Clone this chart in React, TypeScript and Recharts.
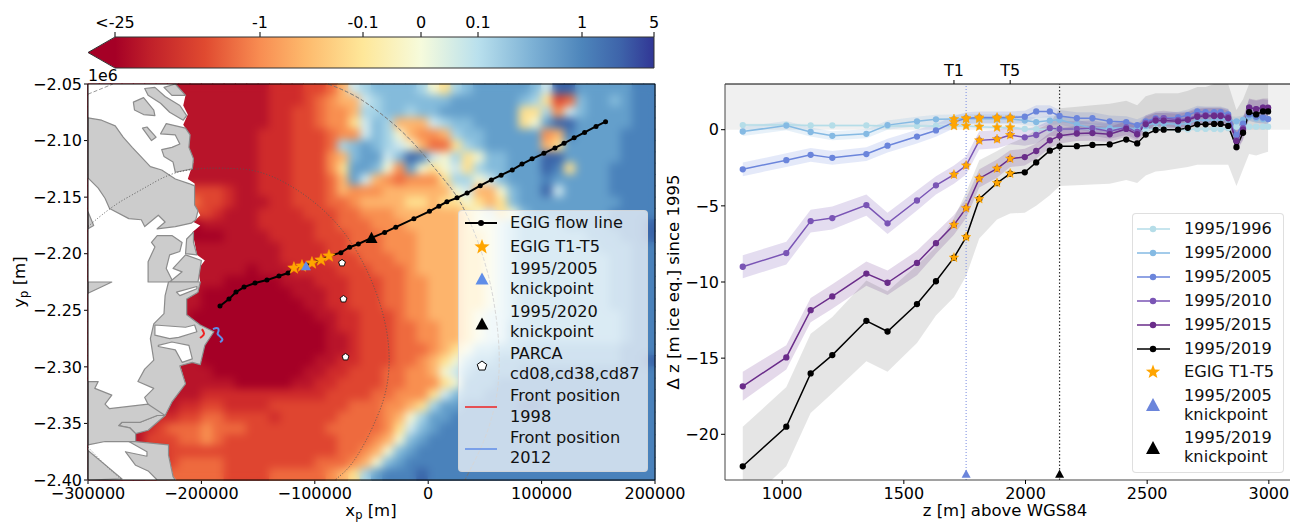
import React from "react";
import { ComposedChart, Line, Area, XAxis, YAxis, ReferenceArea, ReferenceLine, Legend } from "recharts";

const FONT = "'DejaVu Sans', sans-serif";

// ---------- panel (a): heat field, 10 km cells ----------
const heatLevels = "0123456789abcdef";
const heatColors = ["#a50026","#b8142a","#cf2b2b","#df4530","#ee6a3e","#f88f50","#fdb46c","#fee090","#f4f6d2","#cfe8ee","#a6d3e6","#84bbdb","#649fcb","#4a82bb","#3a64a8","#313695"];
const heatRows = [
"1111111111 1111112223 3469abbbba 87abcccccb 9eecccccdd",
"1111111111 1111112223 45669abbbb bbccccccba 734bccbcdd",
"1111111111 1111112233 4556aabbab bccccccc77 a59bccccdd",
"1111111111 1111112233 45579ba666 9abbcccc78 ceecccccdd",
"1111111111 1111122233 34559ba865 56abbccccc 56dccccddd",
"1111111111 1111122233 34abcba986 447abccccc 67cccccddd",
"1111111111 1111122233 356bcc9bed 98a78bbccc eecccccddd",
"1111111111 1111122233 357ccb85c8 7897abbccc ed7cccdddd",
"1111111111 1111122233 346c965455 57aa89bccc dcccccdddd",
"1111111113 3321122233 3465556666 6689668bcc e9ccccdddd",
"1111111154 3321112233 3445666677 6778767bcc cccccccddd",
"1111111113 3211122223 3344555666 66678978bc ccccccdddd",
"1111111110 1111122222 3344455566 6667889abb bbccccddde",
"1111111110 0011112222 3334445556 6667789abb bbbbcccdde",
"1111111111 1111111222 2334445556 6667789abb bbbbbcccdd",
"1111111111 1111111222 2333444556 6667789abb bbbbbbccdd",
"1111111111 1111011122 2233344456 6667789abb bbbbbbccdd",
"1111111111 1100000111 2223334455 6667789abb bbbbbbccdd",
"1111111111 0000000011 1223334455 6667789abb bbbbbbccdd",
"1111111111 0000000001 1223334455 6667789abb bbbbbbccdd",
"1111111110 0000000000 1122333455 6667899abb bbbbbbbcdd",
"1111111110 0000000000 0122333445 5667899bbb bbbbbbbcdd",
"1111111110 0000000000 0112333445 5667899bbb bbbbbbbcdd",
"1111111110 0000000000 0112333444 5678aabbcc cccccccddd",
"1111111111 0000000000 1122333445 678abbcccc cccccccdde",
"1111111111 1000000001 1223334455 689bccccdd dddddddddd",
"1111111111 1110000011 2233334455 578cccdddd dddddddddd",
"1111111111 2222222222 2333344555 79bccddddd dddddddddd",
"1111111122 3322223333 3334445567 accdddddee dddddddddd",
"1111112233 4433332333 334444568a ccdddddddd dddddddddd",
"1111123444 5444333333 344444579b cddddddddd dddddddddd",
"1111133344 5433333333 33444568bc dddddddddd dddddddddd",
"1111122333 3333333333 3344568bcd dddddddddd dddddddddd",
"1111122344 4433333333 444568bcdd dddddddddd dddddddddd",
"1111123444 4433334444 4567acddde dddddddddd dddddddddd",
];
const heatCells = heatRows.flatMap((row, r) =>
  row.replace(/ /g, "").split("").map((ch, c) => ({
    x: -295000 + c * 10000,
    y: -2055000 - r * 10000,
    color: heatColors[heatLevels.indexOf(ch)],
  })));

// coastline polygons, km
const iceMask = [[-300,-2050],[-223,-2050],[-214,-2060],[-216,-2069],[-212,-2077],[-216,-2086],[-210,-2095],[-212,-2110],[-207,-2119],[-212,-2134],[-206,-2138],[-206,-2157],[-201,-2166],[-207,-2172],[-201,-2175],[-208,-2181],[-206,-2190],[-204,-2201],[-197,-2206],[-203,-2214],[-201,-2225],[-203,-2234],[-213,-2240],[-213,-2254],[-201,-2263],[-190,-2269],[-197,-2281],[-201,-2298],[-208,-2296],[-219,-2298],[-214,-2315],[-226,-2331],[-232,-2343],[-247,-2356],[-259,-2359],[-259,-2366],[-229,-2369],[-229,-2378],[-225,-2397],[-222,-2400],[-300,-2400]];
const landPolys = [
  [[-300,-2080],[-288,-2082],[-276,-2087],[-269,-2097],[-261,-2106],[-245,-2123],[-235,-2126],[-223,-2134],[-211,-2138],[-206,-2140],[-206,-2157],[-203,-2162],[-205,-2170],[-209,-2173],[-223,-2176],[-239,-2178],[-232,-2172],[-238,-2166],[-250,-2176],[-253,-2170],[-264,-2169],[-281,-2160],[-285,-2151],[-291,-2142],[-300,-2133]],
  [[-300,-2163],[-295,-2175],[-300,-2178]],
  [[-250,-2054],[-241,-2053],[-232,-2061],[-219,-2069],[-213,-2078],[-216,-2082],[-228,-2075],[-236,-2067],[-247,-2060]],
  [[-233,-2053],[-223,-2050],[-214,-2060],[-226,-2060]],
  [[-260,-2066],[-251,-2062],[-242,-2073],[-241,-2078],[-251,-2077],[-259,-2073]],
  [[-252,-2089],[-248,-2088],[-240,-2097],[-244,-2100]],
  [[-236,-2094],[-231,-2085],[-214,-2089],[-210,-2095],[-211,-2106],[-207,-2116],[-208,-2125],[-223,-2128],[-225,-2119],[-233,-2114],[-235,-2108],[-226,-2106],[-219,-2103],[-223,-2095]],
  [[-244,-2190],[-239,-2184],[-226,-2184],[-217,-2190],[-219,-2198],[-228,-2201],[-231,-2213],[-225,-2225],[-247,-2225],[-247,-2207],[-241,-2194]],
  [[-213,-2187],[-207,-2181],[-207,-2190],[-204,-2201],[-214,-2200]],
  [[-225,-2213],[-214,-2201],[-200,-2206],[-203,-2225],[-228,-2225],[-217,-2216]],
  [[-300,-2225],[-279,-2225],[-300,-2235]],
  [[-229,-2225],[-201,-2225],[-203,-2234],[-213,-2240],[-213,-2254],[-201,-2263],[-189,-2269],[-197,-2281],[-201,-2298],[-208,-2296],[-219,-2299],[-214,-2315],[-226,-2331],[-232,-2343],[-247,-2356],[-258,-2359],[-263,-2354],[-273,-2352],[-270,-2349],[-254,-2349],[-239,-2343],[-247,-2333],[-250,-2327],[-242,-2319],[-256,-2313],[-250,-2302],[-242,-2294],[-245,-2275],[-242,-2262],[-233,-2253],[-232,-2237]],
  [[-300,-2313],[-291,-2313],[-294,-2319],[-279,-2325],[-285,-2333],[-281,-2337],[-247,-2333],[-232,-2343],[-239,-2343],[-254,-2349],[-270,-2349],[-273,-2352],[-263,-2354],[-258,-2359],[-258,-2366],[-264,-2366],[-285,-2366],[-300,-2369]],
  [[-258,-2366],[-229,-2369],[-229,-2378],[-225,-2397],[-223,-2400],[-239,-2400],[-247,-2392],[-258,-2387],[-267,-2375],[-248,-2379],[-248,-2375],[-264,-2366]],
  [[-300,-2374],[-270,-2399],[-300,-2400]],
];
const fjordPolys = [
  [[-241,-2263],[-214,-2265],[-206,-2263],[-204,-2269],[-220,-2274],[-228,-2275],[-241,-2272]],
  [[-238,-2281],[-226,-2278],[-211,-2281],[-208,-2293],[-217,-2296],[-223,-2285],[-238,-2282]],
  [[-222,-2234],[-204,-2229],[-204,-2231],[-219,-2237]],
];
const bigArc = [[-88.4,-2050],[-69,-2057],[-42.5,-2075],[-16,-2098],[10.4,-2130],[28,-2152],[43.9,-2188],[54.5,-2223],[60.7,-2259],[63.3,-2294],[60.7,-2329],[50.1,-2365],[32.4,-2400]];
const topLeftArc = [[-300,-2059],[-278,-2050]];
const dotArc = [[-300,-2176],[-280.6,-2159],[-254,-2144],[-229.5,-2130],[-208.3,-2125],[-183.6,-2124],[-148.3,-2126],[-113,-2144],[-82.2,-2170],[-60.1,-2201],[-42.5,-2241],[-33.7,-2281],[-35.5,-2320],[-49.6,-2356],[-67.2,-2387],[-82,-2400]];
const cornerArc = [[-300,-2371],[-285,-2387],[-270,-2400]];
const flowKm = [[-183.6,-2246.2],[-175.7,-2240.1],[-169.5,-2233.9],[-162.4,-2229.5],[-152.7,-2225.9],[-142.2,-2223.3],[-131.6,-2219.7],[-123.6,-2217.1],[-118.4,-2212.7],[-111.3,-2210.9],[-102.5,-2208.2],[-94.5,-2205.6],[-87.5,-2202.0],[-77.0,-2199.1],[-69.3,-2194.3],[-61.6,-2191.4],[-50,-2186],[-38.4,-2181.2],[-28.6,-2176.5],[-12.6,-2169],[1.1,-2162.5],[9.4,-2158],[16.5,-2154.1],[25.4,-2150.6],[34.3,-2146.4],[45.9,-2139.9],[55.7,-2134.8],[64.3,-2130.6],[74.1,-2125.9],[82.7,-2120.8],[91.6,-2116.1],[102,-2111.3],[111.8,-2106.5],[119.8,-2102.4],[128.7,-2097.6],[137.9,-2092.8],[148,-2087.5],[156.4,-2083.3]];
const egigKm = [[-118.4,-2212.7],[-111.3,-2210.9],[-102.5,-2208.2],[-94.5,-2205.6],[-87.5,-2202.0]];
const knick2005Km = [[-107.8,-2210.9]];
const knick2020Km = [[-50,-2186]];
const parcaKm = [[-76,-2208.2],[-74.7,-2240.1],[-72.9,-2291.3]];
const front1998Km = [[-199.5,-2266.6],[-197.7,-2269.2],[-197.7,-2271.9],[-201.2,-2274.5]];
const front2012Km = [[-189.8,-2266.6],[-185.4,-2264.8],[-184.5,-2268.3],[-186.3,-2271],[-182.7,-2273.7],[-181,-2276.3],[-183.6,-2278.1]];
const mapFrame = [[-300,-2050],[200,-2050],[200,-2400],[-300,-2400]];
const mapXTicks = [-300000,-200000,-100000,0,100000,200000];
const mapYTicks = [-2050000,-2100000,-2150000,-2200000,-2250000,-2300000,-2350000,-2400000];

// ---------- colour bar ----------
const cbarLabels = ["<-25","-1","-0.1","0","0.1","1","5"];
const cbarTicks = [0,145,248,306,363,467,539];
const cbarStops = [[0,"#a50026"],[35,"#c0202a"],[90,"#e04a30"],[145,"#f88d52"],[190,"#fdb96c"],[248,"#fee799"],[306,"#f6fbdc"],[363,"#b9e0ed"],[415,"#7fb3d6"],[467,"#4d85bb"],[505,"#3e64aa"],[539,"#313695"]];
const cbarArrow = [[0.5,0],[0.5,1],[-27,0.5]];
const cbarOutline = [[-27,0.5],[0,1],[539,1],[539,0],[0,0]];

// ---------- panel (b) ----------
const elev = [838,1017,1117,1206,1346,1433,1554,1632,1706,1756,1810,1883,1937,1997,2044,2100,2140,2211,2275,2346,2414,2459,2494,2535,2568,2627,2667,2706,2740,2775,2802,2833,2867,2894,2919,2948,2976,2997];
const s1996 = [.3,.32,.28,.28,.28,.25,.25,.25,.25,.25,.2,.15,.15,.05,.03,.03,.05,.05,.05,.05,.1,-.05,0,.05,.05,-.02,.02,.05,.05,.05,.03,.1,.2,.2,.2,.2,.2,.2];
const s2000 = [-.12,.27,-.15,-.4,-.27,.3,.55,.68,.7,.72,.72,.72,.72,.6,.5,.6,.65,.35,.1,.1,.15,.05,.25,.45,.4,.35,.4,.65,.6,.65,.7,.65,.55,.65,.85,.75,.7,.7];
const s2005 = [-2.6,-2,-1.65,-1.85,-1.6,-1.05,-.45,-.05,.5,.75,.8,.8,.8,.85,1.2,1.2,.9,.75,.75,.55,.5,.3,.55,.75,.75,.8,.95,1.2,1.15,1.15,1.15,1,-.35,.4,1,.85,.8,.7];
const s2010 = [-9,-8.1,-6,-5.8,-4.95,-6.15,-4.65,-3.65,-2.95,-2.35,-.7,-.62,-.35,-.5,-.35,.1,.05,.05,.1,-.1,.15,-.15,.45,.7,.75,.65,.7,.95,.95,.95,.95,.85,-.7,.1,1.45,1.35,1.45,1.4];
const s2015 = [-16.85,-14.95,-11.85,-10.95,-9.45,-10.05,-8.75,-7.45,-6.25,-5.15,-3.2,-2.55,-1.9,-1.8,-1.4,-.7,-.4,-.25,-.22,-.3,.05,-.3,.35,.6,.6,.55,.65,.85,.9,.9,.9,.75,-.75,0,1.45,1.35,1.45,1.45];
const s2019 = [-22.1,-19.5,-16,-14.8,-12.55,-13.25,-11.45,-9.95,-8.4,-7.05,-4.55,-3.5,-2.88,-2.8,-2.15,-1.38,-1.09,-1.08,-1,-.97,-.65,-.9,-.32,-.02,0,0,.12,.35,.35,.38,.38,.25,-1.15,-.2,1.15,1,1.2,1.2];
const hw1996 = [.1,.1,.1,.1,.1,.1,.1,.1,.1,.1,.1,.1,.1,.1,.1,.1,.1,.1,.1,.1,.1,.1,.1,.1,.1,.1,.1,.1,.1,.1,.1,.1,.1,.1,.1,.1,.1,.1];
const hw2000 = [.3,.3,.3,.3,.3,.3,.3,.3,.3,.3,.3,.3,.3,.3,.3,.3,.3,.3,.3,.3,.3,.3,.3,.3,.25,.25,.25,.25,.25,.25,.25,.25,.3,.3,.3,.3,.3,.3];
const hw2005 = [.45,.45,.45,.45,.45,.45,.45,.42,.4,.4,.4,.4,.4,.4,.4,.4,.4,.4,.4,.38,.38,.38,.38,.38,.38,.38,.38,.38,.38,.38,.38,.38,.5,.5,.4,.4,.4,.4];
const hw2010 = [.75,.75,.75,.75,.7,.7,.65,.6,.6,.6,.6,.6,.6,.55,.55,.5,.5,.5,.5,.5,.5,.5,.5,.5,.5,.5,.5,.5,.5,.5,.5,.5,.7,.7,.55,.55,.55,.55];
const hw2015 = [.95,.8,.8,.8,.8,.8,.8,.7,.65,.65,.6,.6,.55,.55,.5,.5,.5,.5,.5,.5,.5,.5,.5,.5,.5,.5,.5,.5,.5,.5,.5,.5,.7,.7,.6,.6,.6,.6];
const band2019Lo = [-24.8,-22.1,-18.6,-17.3,-15.2,-15.9,-14,-12.2,-11,-9.6,-7.15,-5.9,-5.5,-5.45,-5,-4.3,-3.7,-3.65,-3.6,-3.55,-3.3,-3.5,-3,-2.75,-2.7,-2.55,-2.45,-2.3,-2.3,-2.3,-2.3,-2.3,-3.7,-2.6,-1.6,-1.7,-1.55,-1.45];
const band2019Hi = [-19.5,-16.9,-13.4,-12.3,-9.9,-10.6,-8.9,-7.7,-5.8,-4.1,-2,-1.4,-.9,-.5,0,.4,1.4,1.5,1.6,1.7,1.9,1.6,2.2,2.4,2.4,2.4,2.55,2.8,2.8,3,3,3,1.3,2,3,3,3,3];
const zXTicks = [1000,1500,2000,2500,3000];
const zYTicks = [0,-5,-10,-15,-20];
const topLabels = ["T1","T5"];
const topTicks = [1706,1937];
const egigIdx = [8,9,10,11,12];
const knick2005z = [{ z: 1756, v: -22.6 }];
const knick2019z = [{ z: 2140, v: -22.6 }];

const seriesList = [
  { key: "s1996", name: "1995/1996", color: "#b5dde8", vals: s1996, hw: hw1996, op: 0.15 },
  { key: "s2000", name: "1995/2000", color: "#85bae3", vals: s2000, hw: hw2000, op: 0.2 },
  { key: "s2005", name: "1995/2005", color: "#6b85db", vals: s2005, hw: hw2005, op: 0.18 },
  { key: "s2010", name: "1995/2010", color: "#7a55b5", vals: s2010, hw: hw2010, op: 0.2 },
  { key: "s2015", name: "1995/2015", color: "#6a2c8a", vals: s2015, hw: hw2015, op: 0.18 },
];
const table = elev.map((z, i) => {
  const row: any = { z, s2019: s2019[i], b2019: [band2019Lo[i], band2019Hi[i]] };
  seriesList.forEach((s) => {
    row[s.key] = s.vals[i];
    row["b" + s.key] = [s.vals[i] - s.hw[i], s.vals[i] + s.hw[i]];
  });
  return row;
});

const km = (a: number[][]) => a.map(([x, y]) => ({ x: x * 1000, y: y * 1000 }));
const minus = (s: string) => s.replace("-", "\u2212");

// ---------- marks ----------
const starPath = (cx: number, cy: number, r: number) => {
  const pts: string[] = [];
  for (let i = 0; i < 10; i++) {
    const R = i % 2 ? r * 0.42 : r;
    const a = (Math.PI / 5) * i - Math.PI / 2;
    pts.push(`${cx + R * Math.cos(a)},${cy + R * Math.sin(a)}`);
  }
  return "M" + pts.join("L") + "Z";
};
const pentaPath = (cx: number, cy: number, r: number) => {
  const pts: string[] = [];
  for (let i = 0; i < 5; i++) {
    const a = ((Math.PI * 2) / 5) * i - Math.PI / 2;
    pts.push(`${cx + r * Math.cos(a)},${cy + r * Math.sin(a)}`);
  }
  return "M" + pts.join("L") + "Z";
};
const triPath = (cx: number, cy: number, r: number) =>
  `M${cx},${cy - r}L${cx + r},${cy + r * 0.85}L${cx - r},${cy + r * 0.85}Z`;

const starDot = (r: number) => (p: any) => <path key={p.index} d={starPath(p.cx, p.cy, r)} fill="#ffa500" stroke="#ffa500" strokeWidth={0.5} />;
const triDot = (r: number, c: string) => (p: any) => <path key={p.index} d={triPath(p.cx, p.cy, r)} fill={c} />;
const pentaDot = (p: any) => <path key={p.index} d={pentaPath(p.cx, p.cy, 3.6)} fill="#fff" stroke="#000" strokeWidth={0.9} />;
const heatDot = (blur: boolean) => (p: any) =>
  p.index === 0 ? (
    <g key={0} className={blur ? "heat" : undefined}>
      {p.points.map((q: any, i: number) => (
        <rect key={i} x={q.x - 6.2} y={q.y - 6.2} width={12.4} height={12.4} fill={heatCells[i].color} />
      ))}
    </g>
  ) : (
    <g key={p.index} />
  );
const polyDot = (fill: string, stroke: string, sw = 1.2) => (p: any) =>
  p.index === 0 ? (
    <path key={0} d={"M" + p.points.map((q: any) => `${q.x},${q.y}`).join("L") + "Z"} fill={fill} stroke={stroke} strokeWidth={sw} strokeLinejoin="round" />
  ) : (
    <g key={p.index} />
  );
const smoothD = (pts: any[]) => {
  if (pts.length < 3) return "M" + pts.map((q) => `${q.x},${q.y}`).join("L");
  let d = `M${pts[0].x},${pts[0].y}`;
  for (let i = 1; i < pts.length - 1; i++) {
    const mx = (pts[i].x + pts[i + 1].x) / 2;
    const my = (pts[i].y + pts[i + 1].y) / 2;
    d += `Q${pts[i].x},${pts[i].y} ${mx},${my}`;
  }
  const l = pts[pts.length - 1];
  return d + `L${l.x},${l.y}`;
};
const pathDot = (stroke: string, w: number, dash?: string, smooth = true, r = 0) => (p: any) => (
  <g key={p.index}>
    {p.index === 0 && (
      <path d={smooth ? smoothD(p.points) : "M" + p.points.map((q: any) => `${q.x},${q.y}`).join("L")} fill="none" stroke={stroke} strokeWidth={w} strokeDasharray={dash} />
    )}
    {r > 0 && <circle cx={p.cx} cy={p.cy} r={r} fill={stroke} />}
  </g>
);

const legendBox = (w: number, h: number, body: React.ReactNode) => (
  <div style={{ width: w, height: h, background: "rgba(255,255,255,0.7)", border: "1px solid rgba(210,210,210,0.7)", borderRadius: 4, boxSizing: "border-box" }}>
    <svg width={w} height={h} style={{ display: "block", position: "absolute", left: 0, top: 0, fontFamily: FONT }}>{body}</svg>
  </div>
);
const T = ({ x, y, children }: any) => <text x={x} y={y} fontSize={16.2} fill="#111" dominantBaseline="middle">{children}</text>;

const leftLegend = () =>
  legendBox(190, 262, (
    <g>
      <line x1={7} x2={39} y1={13} y2={13} stroke="#000" strokeWidth={2} /><circle cx={23} cy={13} r={3} fill="#000" />
      <T x={52} y={13}>EGIG flow line</T>
      <path d={starPath(24, 37, 8)} fill="#ffa500" />
      <T x={52} y={37}>EGIG T1-T5</T>
      <path d={triPath(24, 69, 6.5)} fill="#5f8de8" />
      <T x={52} y={59}>1995/2005</T><T x={52} y={79}>knickpoint</T>
      <path d={triPath(24, 114, 6.5)} fill="#000" />
      <T x={52} y={102}>1995/2020</T><T x={52} y={122}>knickpoint</T>
      <path d={pentaPath(24, 156, 5)} fill="#fff" stroke="#000" strokeWidth={1} />
      <T x={52} y={144}>PARCA</T><T x={52} y={164}>cd08,cd38,cd87</T>
      <line x1={7} x2={39} y1={197} y2={197} stroke="#ee2222" strokeWidth={1.5} />
      <T x={52} y={186}>Front position</T><T x={52} y={207}>1998</T>
      <line x1={7} x2={39} y1={239} y2={239} stroke="#5f8de8" strokeWidth={1.5} />
      <T x={52} y={228}>Front position</T><T x={52} y={248}>2012</T>
    </g>
  ));
const rightLegend = () => {
  const rows = [...seriesList.map((s) => ({ n: s.name, c: s.color })), { n: "1995/2019", c: "#000" }];
  return legendBox(152, 260, (
    <g>
      {rows.map((r, i) => (
        <g key={r.n}>
          <line x1={5} x2={38} y1={16 + i * 24} y2={16 + i * 24} stroke={r.c} strokeWidth={1.5} />
          <circle cx={21} cy={16 + i * 24} r={3.2} fill={r.c} />
          <T x={52} y={16 + i * 24}>{r.n}</T>
        </g>
      ))}
      <path d={starPath(21, 159, 7.5)} fill="#ffa500" />
      <T x={52} y={159}>EGIG T1-T5</T>
      <path d={triPath(21, 192, 7)} fill="#6b85db" />
      <T x={52} y={183}>1995/2005</T><T x={52} y={202}>knickpoint</T>
      <path d={triPath(21, 235, 7)} fill="#000" />
      <T x={52} y={225}>1995/2019</T><T x={52} y={244}>knickpoint</T>
    </g>
  ));
};

const tickStyle = { fill: "#000", fontSize: 16, fontFamily: FONT };
const axisLineBlack = { stroke: "#000", strokeWidth: 1 };
const LBL = 16.5;

export default function App() {
  const polyLine = (pts: number[][], i: string, fill: string, stroke: string, sw?: number) => (
    <Line key={i} data={km(pts)} dataKey="y" stroke="none" isAnimationActive={false} dot={polyDot(fill, stroke, sw)} activeDot={false} legendType="none" />
  );
  const pathLine = (pts: number[][], i: string, stroke: string, w: number, dash?: string, smooth = true, r = 0) => (
    <Line key={i} data={km(pts)} dataKey="y" stroke="none" dot={pathDot(stroke, w, dash, smooth, r)} activeDot={false} isAnimationActive={false} legendType="none" />
  );
  return (
    <div style={{ position: "absolute", left: 0, top: 0, width: 1296, height: 524, overflow: "hidden", background: "#fff", fontFamily: FONT }}>
      <style>{`.heat{filter:blur(4px);clip-path:url(#mapClip)}`}</style>
      <svg width={0} height={0} style={{ position: "absolute" }}>
        <defs>
          <clipPath id="mapClip" clipPathUnits="userSpaceOnUse"><rect x={88} y={84} width={567} height={396} /></clipPath>
          <linearGradient id="cbGrad" x1="0" x2="1" y1="0" y2="0">
            {cbarStops.map(([t, c]) => <stop key={t as number} offset={(t as number) / 539} stopColor={c as string} />)}
          </linearGradient>
        </defs>
      </svg>

      {/* colour bar */}
      <div style={{ position: "absolute", left: 0, top: 0 }}>
        <ComposedChart width={700} height={70} margin={{ left: 88, right: 46, top: 7, bottom: 2 }}>
          <XAxis type="number" dataKey="x" orientation="top" height={30} domain={[-27, 539]} ticks={cbarTicks} interval={0} tickMargin={4} tickFormatter={(v) => cbarLabels[cbarTicks.indexOf(v)]} tick={tickStyle} tickSize={5} axisLine={false} tickLine={{ stroke: "#000" }} />
          <YAxis type="number" domain={[0, 1]} hide />
          <ReferenceArea x1={0} x2={539} y1={0} y2={1} fill="url(#cbGrad)" fillOpacity={1} stroke="none" />
          <Line data={cbarArrow.map(([x, y]) => ({ x, y }))} dataKey="y" stroke="none" isAnimationActive={false} dot={polyDot("#a50026", "none")} activeDot={false} legendType="none" />
          <Line data={cbarOutline.map(([x, y]) => ({ x, y }))} dataKey="y" stroke="none" isAnimationActive={false} dot={polyDot("none", "#333", 1)} activeDot={false} legendType="none" />
          <text x={420} y={58} fontSize={17} fill="#111" textAnchor="middle" fontFamily={FONT}>{"\u0394H [m ice eq.]"}</text>
        </ComposedChart>
      </div>

      {/* panel (a) */}
      <div style={{ position: "absolute", left: 0, top: 0 }}>
        <ComposedChart width={700} height={524} margin={{ left: 8, right: 45, top: 84, bottom: 14 }}>
          <XAxis type="number" dataKey="x" domain={[-300000, 200000]} ticks={mapXTicks} interval={0} height={30} tick={tickStyle} tickSize={4} tickMargin={4} axisLine={axisLineBlack} tickLine={{ stroke: "#000" }} tickFormatter={(v) => minus(String(v))} />
          <YAxis type="number" dataKey="y" domain={[-2400000, -2050000]} ticks={mapYTicks} interval={0} width={80} tick={tickStyle} tickSize={4} axisLine={axisLineBlack} tickLine={{ stroke: "#000" }} tickFormatter={(v) => minus((v / 1e6).toFixed(2))} />
          <Line data={heatCells} dataKey="y" stroke="none" isAnimationActive={false} dot={heatDot(false)} activeDot={false} legendType="none" />
          <Line data={heatCells} dataKey="y" stroke="none" isAnimationActive={false} dot={heatDot(true)} activeDot={false} legendType="none" />
          {polyLine(iceMask, "mask", "#fff", "none")}
          {landPolys.map((p, i) => polyLine(p, "land" + i, "#cccccc", "#8c8c8c"))}
          {fjordPolys.map((p, i) => polyLine(p, "fj" + i, "#fff", "#8c8c8c"))}
          {pathLine(bigArc, "arc1", "#777", 1, "4 2")}
          {pathLine(topLeftArc, "arc2", "#999", 1, "4 2")}
          {pathLine(dotArc, "arc3", "#555", 1, "1 2")}
          {pathLine(cornerArc, "arc4", "#777", 1, "1 2")}
          {pathLine(front1998Km, "f98", "#ee2222", 2)}
          {pathLine(front2012Km, "f12", "#5f8de8", 2)}
          {pathLine(flowKm, "flow", "#000", 2, undefined, false, 2.5)}
          <Line data={km(egigKm)} dataKey="y" stroke="none" dot={starDot(6.5)} isAnimationActive={false} legendType="none" />
          <Line data={km(knick2005Km)} dataKey="y" stroke="none" dot={triDot(5, "#5f8de8")} isAnimationActive={false} legendType="none" />
          <Line data={km(knick2020Km)} dataKey="y" stroke="none" dot={triDot(6, "#000")} isAnimationActive={false} legendType="none" />
          <Line data={km(parcaKm)} dataKey="y" stroke="none" dot={pentaDot} isAnimationActive={false} legendType="none" />
          {polyLine(mapFrame, "frame", "none", "#000", 1)}
          <text x={88} y={81} fontSize={15.8} fill="#000" fontFamily={FONT}>1e6</text>
          <text x={98} y={113} fontSize={26} fill="#000" fontFamily={FONT}>(a)</text>
          <text x={371} y={516} fontSize={LBL} fill="#000" textAnchor="middle" fontFamily={FONT}>x<tspan dy={3} fontSize={11.5}>p</tspan><tspan dy={-3}> [m]</tspan></text>
          <text transform="translate(25,282) rotate(-90)" fontSize={LBL} fill="#000" textAnchor="middle" fontFamily={FONT}>y<tspan dy={3} fontSize={11.5}>p</tspan><tspan dy={-3}> [m]</tspan></text>
          <Legend layout="vertical" align="center" verticalAlign="middle" content={leftLegend} wrapperStyle={{ left: 458, top: 210, width: 190 }} />
        </ComposedChart>
      </div>

      {/* panel (b) */}
      <div style={{ position: "absolute", left: 660, top: 0 }}>
        <ComposedChart width={636} height={524} data={table} margin={{ left: 0, right: 6, top: 59, bottom: 14 }}>
          <XAxis type="number" dataKey="z" domain={[765, 3087]} ticks={zXTicks} interval={0} height={30} tick={tickStyle} tickSize={4} tickMargin={4} axisLine={{ stroke: "#444" }} tickLine={{ stroke: "#000" }} />
          <XAxis xAxisId="top" orientation="top" type="number" dataKey="z" domain={[765, 3087]} ticks={topTicks} interval={0} height={25} tick={tickStyle} tickSize={4} tickMargin={4} axisLine={{ stroke: "#000" }} tickLine={{ stroke: "#000" }} tickFormatter={(v) => topLabels[topTicks.indexOf(v)]} />
          <YAxis type="number" domain={[-23, 3]} ticks={zYTicks} interval={0} width={65} tick={tickStyle} tickSize={4} axisLine={{ stroke: "#444" }} tickLine={{ stroke: "#000" }} tickFormatter={(v) => minus(String(v))} allowDataOverflow />
          <ReferenceArea x1={765} x2={3087} y1={0} y2={3} fill="#f0f0f0" fillOpacity={1} stroke="none" />
          {seriesList.map((s) => (
            <Area key={"b" + s.key} dataKey={"b" + s.key} stroke="none" fill={s.color} fillOpacity={s.op} isAnimationActive={false} legendType="none" />
          ))}
          <Area dataKey="b2019" stroke="none" fill="#000" fillOpacity={0.1} isAnimationActive={false} legendType="none" />
          <ReferenceLine x={1756} stroke="#8e9ee6" strokeDasharray="1 2" strokeWidth={1.2} />
          <ReferenceLine x={2140} stroke="#333" strokeDasharray="1.5 2" strokeWidth={1.2} />
          {seriesList.map((s) => (
            <Line key={s.key} dataKey={s.key} stroke={s.color} strokeWidth={1.5} dot={{ r: 2.4, fill: s.color, stroke: s.color }} isAnimationActive={false} legendType="none" />
          ))}
          <Line dataKey="s2019" stroke="#000" strokeWidth={1.5} dot={{ r: 2.4, fill: "#000", stroke: "#000" }} isAnimationActive={false} legendType="none" />
          {[...seriesList.map((s) => s.vals), s2019].map((vals, k) => (
            <Line key={"star" + k} data={egigIdx.map((i) => ({ z: elev[i], v: vals[i] }))} dataKey="v" stroke="none" dot={starDot(5)} isAnimationActive={false} legendType="none" />
          ))}
          <Line data={knick2005z} dataKey="v" stroke="none" dot={triDot(4.5, "#6b85db")} isAnimationActive={false} legendType="none" />
          <Line data={knick2019z} dataKey="v" stroke="none" dot={triDot(4.5, "#000")} isAnimationActive={false} legendType="none" />
          <text x={77} y={113} fontSize={26} fill="#000" fontFamily={FONT}>(b)</text>
          <text x={345} y={516} fontSize={LBL} fill="#000" textAnchor="middle" fontFamily={FONT}>z [m] above WGS84</text>
          <text transform="translate(19,282) rotate(-90)" fontSize={LBL} fill="#000" textAnchor="middle" fontFamily={FONT}>{"\u0394 z [m ice eq.] since 1995"}</text>
          <Legend layout="vertical" align="center" verticalAlign="middle" content={rightLegend} wrapperStyle={{ left: 472, top: 213, width: 152 }} />
        </ComposedChart>
      </div>
    </div>
  );
}
